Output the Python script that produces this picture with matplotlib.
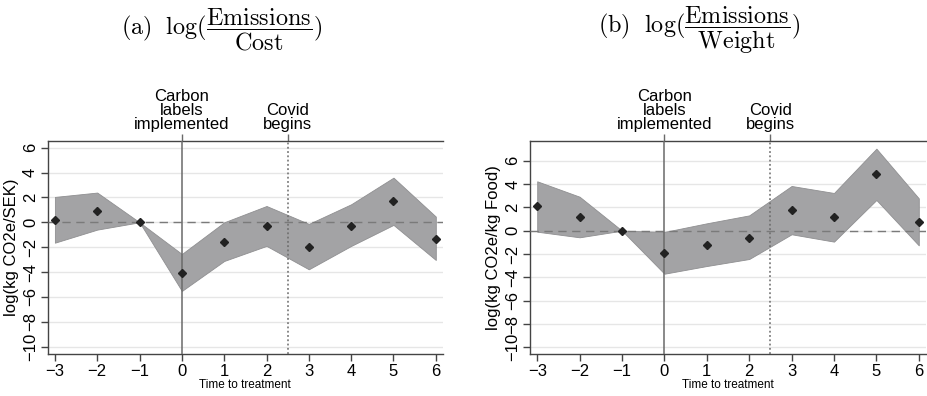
import matplotlib
matplotlib.use("Agg")
import matplotlib.pyplot as plt
import numpy as np

plt.rcParams['font.family'] = ['Liberation Sans', 'DejaVu Sans']
plt.rcParams['mathtext.fontset'] = 'cm'

periods = [-3, -2, -1, 0, 1, 2, 3, 4, 5, 6]

# Panel (a): log(Emissions / Cost)
cost_coef = [0.19, 0.91, 0.0, -4.07, -1.55, -0.32, -1.96, -0.32, 1.69, -1.31]
cost_upper = [2.04, 2.39, 0.0, -2.55, 0.0, 1.31, -0.13, 1.45, 3.59, 0.46]
cost_lower = [-1.64, -0.59, 0.0, -5.52, -3.11, -1.90, -3.78, -1.90, -0.21, -3.03]

# Panel (b): log(Emissions / Weight)
weight_coef = [2.09, 1.17, 0.0, -1.89, -1.20, -0.60, 1.74, 1.17, 4.86, 0.74]
weight_upper = [4.23, 2.91, 0.0, -0.11, 0.63, 1.31, 3.83, 3.23, 7.03, 2.77]
weight_lower = [-0.09, -0.57, 0.0, -3.69, -3.03, -2.43, -0.31, -0.94, 2.63, -1.26]

yticks = [6, 4, 2, 0, -2, -4, -6, -8, -10]
event_pos = [0, 2.5]
event_labels = ["Carbon\nlabels\nimplemented", "Covid\nbegins"]

fig = plt.figure(figsize=(9.27, 3.96), dpi=100)
W, H = 927, 396


def add_axes_px(left, top, right, bottom):
    return fig.add_axes([left / W, 1 - bottom / H, (right - left) / W, (bottom - top) / H])


def draw_panel(ax, coef, upper, lower, ylim, ylabel):
    ax.set_xlim(-3.17, 6.17)
    ax.set_ylim(*ylim)
    for y in yticks:
        ax.axhline(y, color='#e6e6e6', lw=1.0, zorder=0)
    ax.fill_between(periods, lower, upper, color='#a3a3a5', lw=0.6,
                    edgecolor='#8f8f91', zorder=2)
    ax.axhline(0, color='#7a7a7a', lw=1.0, ls=(0, (6, 4)), zorder=3)
    ax.axvline(event_pos[0], color='#6a6a6a', lw=1.1, zorder=3)
    ax.axvline(event_pos[1], color='#6a6a6a', lw=1.1, ls=(0, (1.2, 1.6)),
               zorder=3)
    ax.plot(periods, coef, ls='none', marker='D', ms=4, color='#222222',
            zorder=4)

    ax.set_xticks(periods)
    ax.set_xticklabels([str(p).replace('-', '\u2212') for p in periods],
                       fontsize=12)
    ax.set_yticks(yticks)
    ax.set_yticklabels([str(t).replace('-', '\u2212') for t in yticks],
                       fontsize=12, rotation=90, va='center')
    ax.tick_params(axis='both', direction='out', length=5, width=1.0,
                   color='#444444', pad=2)
    ax.set_xlabel("Time to treatment", fontsize=8.5, labelpad=0)
    ax.set_ylabel(ylabel, fontsize=12, labelpad=3)
    for side in ('left', 'bottom', 'top'):
        ax.spines[side].set_color('#444444')
        ax.spines[side].set_linewidth(1.0)
    ax.spines['right'].set_visible(False)

    top = ax.secondary_xaxis('top')
    top.set_xticks(event_pos)
    top.set_xticklabels(event_labels, fontsize=12, linespacing=0.95)
    top.tick_params(direction='out', length=5, width=1.0, color='#6a6a6a',
                    pad=1)
    top.spines['top'].set_visible(False)


ax1 = add_axes_px(47.7, 140.7, 443, 354)
draw_panel(ax1, cost_coef, cost_upper, cost_lower, (-10.59, 6.56),
           "log(kg CO2e/SEK)")

ax2 = add_axes_px(530, 140.7, 926, 354)
draw_panel(ax2, weight_coef, weight_upper, weight_lower, (-10.57, 7.71),
           "log(kg CO2e/kg Food)")

fig.text(222 / W, 1 - 30 / H,
         r'$\mathrm{(a)\ \ log(}\dfrac{\mathrm{Emissions}}{\mathrm{Cost}}\mathrm{)}$',
         fontsize=17.4, ha='center', va='center')
fig.text(699 / W, 1 - 30 / H,
         r'$\mathrm{(b)\ \ log(}\dfrac{\mathrm{Emissions}}{\mathrm{Weight}}\mathrm{)}$',
         fontsize=17.4, ha='center', va='center')

fig.savefig("out.png", dpi=100)
